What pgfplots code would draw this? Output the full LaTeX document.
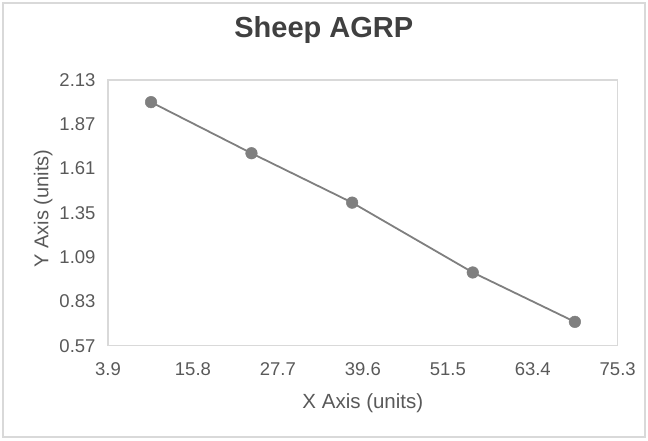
\documentclass[border=0pt]{standalone}
\usepackage{fontspec}
\setmainfont{Liberation Sans}
\usepackage{pgfplots}
\pgfplotsset{compat=1.18}
\definecolor{tickgray}{HTML}{595959}
\definecolor{titlegray}{HTML}{404040}
\definecolor{boxgray}{HTML}{D9D9D9}
\definecolor{linegray}{HTML}{7F7F7F}
\begin{document}
\begin{tikzpicture}
\path (0pt,0pt) rectangle (648pt,440pt);
\draw[boxgray, line width=1.5pt] (3pt,3pt) rectangle (645pt,437pt);
\begin{axis}[
  at={(108pt,94.3pt)}, anchor=south west,
  scale only axis, width=509.7pt, height=265.7pt,
  xmin=3.9, xmax=75.3, ymin=0.57, ymax=2.13,
  xtick={3.9,15.8,27.7,39.6,51.5,63.4,75.3},
  xticklabels={3.9,15.8,27.7,39.6,51.5,63.4,75.3},
  ytick={0.57,0.83,1.09,1.35,1.61,1.87,2.13},
  yticklabels={0.57,0.83,1.09,1.35,1.61,1.87,2.13},
  major tick length=0pt,
  axis line style={boxgray, line width=1.3pt},
  /pgf/number format/assume math mode=true,
  xticklabel style={font=\fontsize{18.5}{21}\selectfont, text=tickgray, inner sep=0pt, yshift=-17pt},
  yticklabel style={font=\fontsize{18.5}{21}\selectfont, text=tickgray, inner sep=0pt, xshift=-12.3pt},
  title={Sheep AGRP},
  title style={at={(axis description cs:0.4234,1.139)}, anchor=base, font=\fontsize{29}{34}\selectfont\bfseries, text=titlegray, inner sep=0pt},
  xlabel={X Axis (units)},
  xlabel style={at={(axis description cs:0.5,-0.2356)}, anchor=base, font=\fontsize{20.5}{24}\selectfont, text=tickgray, inner sep=0pt},
  ylabel={Y Axis (units)},
  ylabel style={at={(axis description cs:-0.1171,0.517)}, anchor=base, font=\fontsize{20}{24}\selectfont, text=tickgray, inner sep=0pt},
  clip=false,
]
\addplot[linegray, line width=1.8pt, mark=*, mark size=5.8pt, mark options={fill=linegray, draw=linegray, line width=0.5pt}]
  coordinates {(9.93,2.00) (24.0,1.70) (38.1,1.41) (55.0,1.00) (69.3,0.71)};
\end{axis}
\end{tikzpicture}
\end{document}
